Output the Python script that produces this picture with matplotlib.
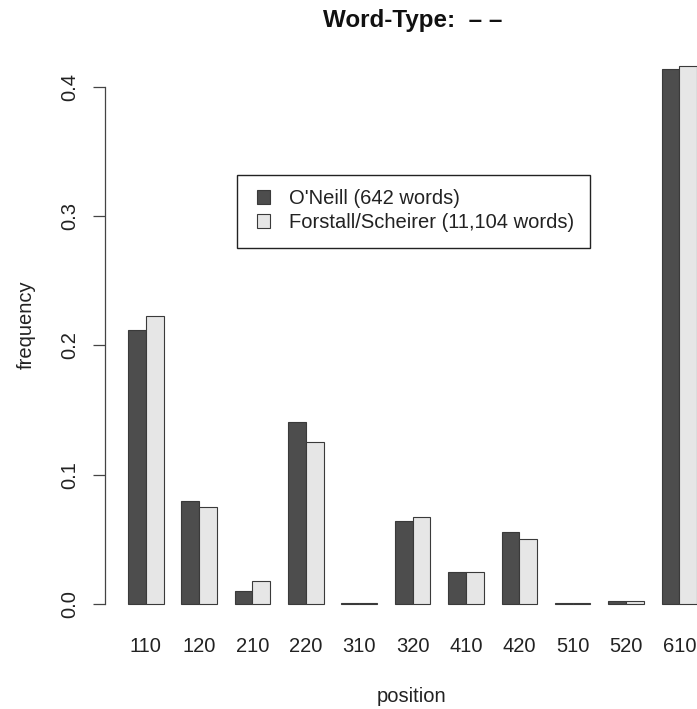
import matplotlib
matplotlib.use("Agg")
import matplotlib.pyplot as plt
from matplotlib.patches import Rectangle
import numpy as np

plt.rcParams['font.family'] = ['Liberation Sans', 'DejaVu Sans']

positions = ['110', '120', '210', '220', '310', '320', '410', '420', '510', '520', '610']
oneill = [0.212, 0.080, 0.010, 0.141, 0.0005, 0.064, 0.025, 0.056, 0.0005, 0.002, 0.414]
forstall = [0.223, 0.075, 0.018, 0.125, 0.0005, 0.067, 0.025, 0.050, 0.001, 0.002, 0.416]
labels = ["O'Neill (642 words)", "Forstall/Scheirer (11,104 words)"]
title = "Word-Type:  \u2013 \u2013"

W, H = 697, 709
BASE = 14.5
TXT = '#222222'
fig = plt.figure(figsize=(W / 100, H / 100), dpi=100)
ax = fig.add_axes([105.2 / W, (H - 624.7) / H, 614.8 / W, 579.1 / H])

idx = np.arange(len(positions))
left1 = 3 * idx + 1
left2 = 3 * idx + 2
b1 = ax.bar(left1, oneill, width=1, align='edge', color='#4d4d4d',
            edgecolor='#3a3a3a', linewidth=0.8, label=labels[0])
b2 = ax.bar(left2, forstall, width=1, align='edge', color='#e6e6e6',
            edgecolor='#3a3a3a', linewidth=0.8, label=labels[1])

ax.set_xlim(-0.28, 34.28)
ax.set_ylim(-0.016, 0.432)

for s in ['top', 'right', 'bottom']:
    ax.spines[s].set_visible(False)
ax.spines['left'].set_bounds(0, 0.4)
ax.spines['left'].set_color('#444444')
ax.spines['left'].set_linewidth(0.9)

ax.set_yticks([0.0, 0.1, 0.2, 0.3, 0.4])
ax.set_yticklabels(['0.0', '0.1', '0.2', '0.3', '0.4'], rotation=90, va='center')
ax.tick_params(axis='y', length=9, width=0.9, color='#444444', pad=10,
               labelsize=BASE, labelcolor=TXT)

ax.set_xticks(3 * idx + 2)
ax.set_xticklabels(positions)
ax.tick_params(axis='x', length=0, pad=9, labelsize=BASE, labelcolor=TXT)

fig.text(413 / W, 1 - 21 / H, title, ha='center', va='center',
         fontsize=BASE * 1.2, fontweight='bold', color='#111111')
fig.text(412 / W, 1 - 697 / H, 'position', ha='center', va='center',
         fontsize=BASE, color=TXT)
fig.text(26 / W, 1 - 325 / H, 'frequency', ha='center', va='center',
         rotation=90, fontsize=BASE, color=TXT)

# legend box
box = Rectangle((237 / W, 1 - 248 / H), 353 / W, 73 / H,
                transform=fig.transFigure, facecolor='white',
                edgecolor='#222222', linewidth=1.0, zorder=5, clip_on=False)
ax.add_patch(box)
leg = ax.legend(handles=[b1, b2], loc='upper left',
                bbox_to_anchor=(257 / W, 1 - 189 / H), bbox_transform=fig.transFigure,
                fontsize=BASE, frameon=False, borderpad=0,
                handlelength=0.65, handleheight=0.65,
                handletextpad=0.95, labelspacing=0.25, borderaxespad=0)
leg.set_zorder(6)
for t in leg.get_texts():
    t.set_color(TXT)

fig.savefig('out.png', dpi=100)
